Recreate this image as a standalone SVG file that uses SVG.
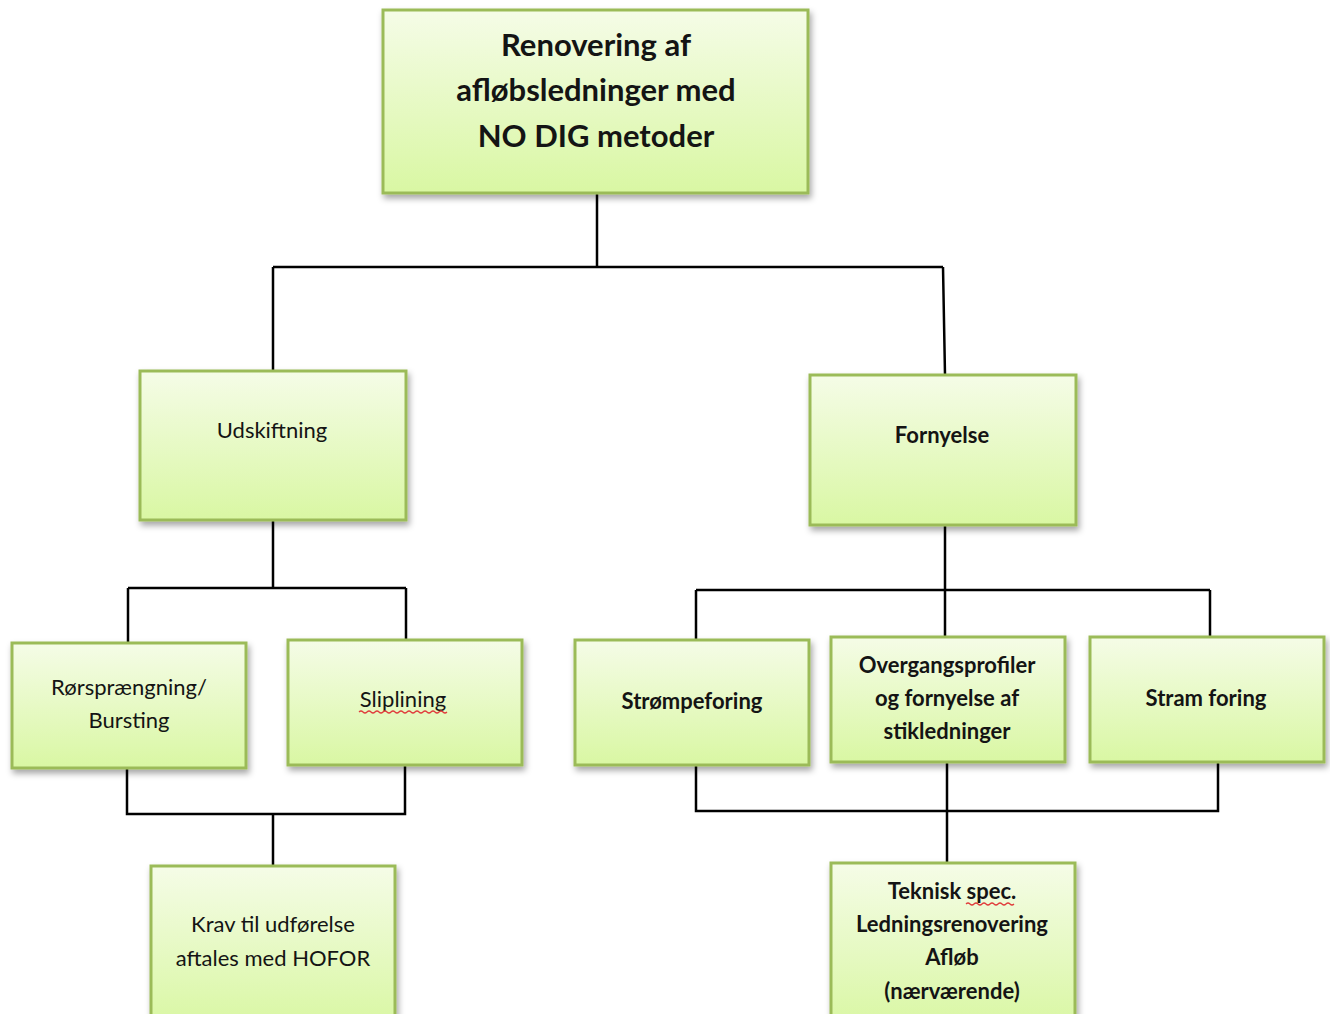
<svg xmlns="http://www.w3.org/2000/svg" width="1330" height="1014" viewBox="0 0 1330 1014">
<defs>
<linearGradient id="g" x1="0" y1="0" x2="0" y2="1">
<stop offset="0" stop-color="#f5fce7"/>
<stop offset="1" stop-color="#d9f7a3"/>
</linearGradient>
<filter id="sh" x="-10%" y="-10%" width="125%" height="130%">
<feDropShadow dx="2" dy="4" stdDeviation="3" flood-color="#000" flood-opacity="0.35"/>
</filter>
</defs>
<style>
.box{fill:url(#g);stroke:#9bbb59;stroke-width:3;filter:url(#sh)}
.t{font-family:Lato,"Open Sans","Liberation Sans",sans-serif;fill:#141414;text-anchor:middle}
.r{font-size:22px;font-weight:400}
.b{font-size:22px;font-weight:700}
.h{font-size:31px;font-weight:700}
.c{fill:none;stroke:#000;stroke-width:2.5}
.sq{fill:none;stroke:#e03c3c;stroke-width:1.2}
</style>
<g id="connectors">
<path class="c" d="M597 193V267M273 267H943M273 267V371M943 267L945 375"/>
<path class="c" d="M273 520V588M128 588H406M128 588V643M406 588V640"/>
<path class="c" d="M127 768V814H405V765M273 814V866"/>
<path class="c" d="M945 525V637M696 590H1210M696 590V640M1210 590V637"/>
<path class="c" d="M696 765V811H1218V762M947 762V863"/>
</g>
<g id="n-root">
<rect class="box" x="383" y="10" width="425" height="183"/>
<text class="t h" x="596" y="56">Renovering af</text>
<text class="t h" x="596" y="101">afløbsledninger med</text>
<text class="t h" x="596" y="147">NO DIG metoder</text>
</g>
<g id="n-udskiftning">
<rect class="box" x="140" y="371" width="266" height="149"/>
<text class="t r" x="272" y="438">Udskiftning</text>
</g>
<g id="n-fornyelse">
<rect class="box" x="810" y="375" width="266" height="150"/>
<text class="t b" x="942" y="443">Fornyelse</text>
</g>
<g id="n-bursting">
<rect class="box" x="12" y="643" width="234" height="125"/>
<text class="t r" x="129" y="695">Rørsprængning/</text>
<text class="t r" x="129" y="728">Bursting</text>
</g>
<g id="n-sliplining">
<rect class="box" x="288" y="640" width="234" height="125"/>
<text class="t r" x="403" y="707">Sliplining</text>
<path class="sq" d="M359 712q2 -2 4 0t4 0t4 0t4 0t4 0t4 0t4 0t4 0t4 0t4 0t4 0t4 0t4 0t4 0t4 0t4 0t4 0t4 0t4 0t4 0t4 0t4 0"/>
</g>
<g id="n-krav">
<rect class="box" x="151" y="866" width="244" height="160"/>
<text class="t r" x="273" y="932">Krav til udførelse</text>
<text class="t r" x="273" y="966">aftales med HOFOR</text>
</g>
<g id="n-stroempe">
<rect class="box" x="575" y="640" width="234" height="125"/>
<text class="t b" x="692" y="709">Strømpeforing</text>
</g>
<g id="n-overgang">
<rect class="box" x="831" y="637" width="234" height="125"/>
<text class="t b" x="947" y="673">Overgangsprofiler</text>
<text class="t b" x="947" y="706">og fornyelse af</text>
<text class="t b" x="947" y="739">stikledninger</text>
</g>
<g id="n-stram">
<rect class="box" x="1090" y="637" width="234" height="125"/>
<text class="t b" x="1206" y="706">Stram foring</text>
</g>
<g id="n-teknisk">
<rect class="box" x="831" y="863" width="244" height="165"/>
<text class="t b" x="952" y="899">Teknisk spec.</text>
<text class="t b" x="952" y="932">Ledningsrenovering</text>
<text class="t b" x="952" y="965">Afløb</text>
<text class="t b" x="952" y="999">(nærværende)</text>
<path class="sq" d="M966 904q2 -2 4 0t4 0t4 0t4 0t4 0t4 0t4 0t4 0t4 0t4 0t4 0t4 0"/>
</g>
</svg>
